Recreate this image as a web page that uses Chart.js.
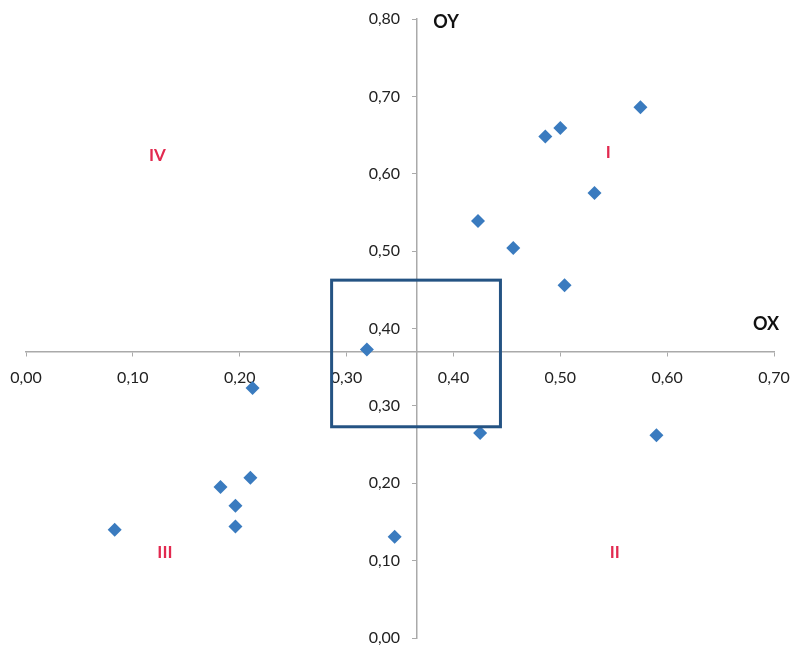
<!DOCTYPE html>
<html>
<head>
<meta charset="utf-8">
<script src="https://cdn.jsdelivr.net/npm/chart.js@4.4.1/dist/chart.umd.min.js"></script>
<style>
  html, body { margin: 0; padding: 0; background: #fff; }
  #wrap { width: 791px; height: 649px; }
</style>
</head>
<body>
<div id="wrap"><canvas id="chart" width="791" height="649"></canvas></div>
<script>
// Values
const xValues = [0.575, 0.500, 0.486, 0.532, 0.423, 0.456, 0.504, 0.319, 0.212, 0.425, 0.590, 0.210, 0.182, 0.196, 0.196, 0.083, 0.345];
const yValues = [0.686, 0.659, 0.648, 0.575, 0.539, 0.504, 0.456, 0.373, 0.323, 0.265, 0.262, 0.207, 0.195, 0.171, 0.144, 0.140, 0.131];
const xTicks = [0, 0.1, 0.2, 0.3, 0.4, 0.5, 0.6, 0.7];
const yTicks = [0, 0.1, 0.2, 0.3, 0.4, 0.5, 0.6, 0.7, 0.8];
const axisCross = { x: 0.366, y: 0.37 };
const boxRange = { x: [0.286, 0.444], y: [0.273, 0.4625] };
const quadrantLabels = ["I", "II", "III", "IV"];
const quadrantAt = [[0.545, 0.628], [0.551, 0.111], [0.130, 0.111], [0.123, 0.624]];

const points = xValues.map((x, i) => ({ x: x, y: yValues[i] }));
const fmt = v => v.toFixed(2).replace('.', ',');

// the crossing axes should not push the plot area inwards
const noPadding = s => {
    s.paddingLeft = 0; s.paddingRight = 0; s.paddingTop = 0; s.paddingBottom = 0;
};

const overlay = {
    id: 'overlay',
    afterDatasetsDraw(chart) {
        const { ctx, scales: { x, y } } = chart;
        const axisX = x.getPixelForValue(axisCross.x);
        ctx.save();

        // y labels sit left of the crossing axis, with a gap
        ctx.fillStyle = '#222';
        ctx.font = '16px Lato';
        ctx.textAlign = 'right';
        ctx.textBaseline = 'middle';
        y.ticks.forEach(t => {
            ctx.fillText(fmt(t.value), axisX - 17, y.getPixelForValue(t.value));
        });

        // box around the centre
        ctx.strokeStyle = '#245383';
        ctx.lineWidth = 3;
        const x1 = x.getPixelForValue(boxRange.x[0]);
        const x2 = x.getPixelForValue(boxRange.x[1]);
        const y1 = y.getPixelForValue(boxRange.y[1]);
        const y2 = y.getPixelForValue(boxRange.y[0]);
        ctx.strokeRect(x1, y1, x2 - x1, y2 - y1);

        // quadrant names
        ctx.fillStyle = '#e2294f';
        ctx.font = 'bold 17px Lato';
        ctx.textAlign = 'center';
        quadrantLabels.forEach((t, i) => {
            ctx.fillText(t, x.getPixelForValue(quadrantAt[i][0]), y.getPixelForValue(quadrantAt[i][1]));
        });

        // axis names
        ctx.fillStyle = '#111';
        ctx.font = 'bold 18px Lato';
        ctx.fillText('OY', axisX + 29, y.top + 3);
        ctx.fillText('OX', x.right - 8, y.getPixelForValue(axisCross.y) - 28);
        ctx.restore();
    }
};

new Chart(document.getElementById('chart'), {
    type: 'scatter',
    data: {
        datasets: [{
            data: points,
            pointStyle: 'rectRot',
            pointRadius: 7,
            pointHoverRadius: 7,
            backgroundColor: '#3a7bbf',
            borderColor: '#3a7bbf',
            borderWidth: 0
        }]
    },
    options: {
        responsive: false,
        animation: false,
        layout: { padding: { left: 26, top: 19, right: 17, bottom: 11 } },
        plugins: { legend: { display: false }, tooltip: { enabled: false } },
        scales: {
            x: {
                type: 'linear',
                position: { y: axisCross.y },
                min: 0, max: 0.7,
                afterBuildTicks: s => { s.ticks = xTicks.map(v => ({ value: v })); },
                afterFit: noPadding,
                grid: { drawOnChartArea: false, drawTicks: true, tickLength: 4, color: '#aaa' },
                border: { color: '#aaa', width: 1.5 },
                ticks: { callback: fmt, color: '#222', font: { family: 'Lato', size: 16 }, padding: 13, maxRotation: 0 }
            },
            y: {
                type: 'linear',
                position: { x: axisCross.x },
                min: 0, max: 0.8,
                afterBuildTicks: s => { s.ticks = yTicks.map(v => ({ value: v })); },
                afterFit: noPadding,
                grid: { drawOnChartArea: false, drawTicks: true, tickLength: 4, color: '#aaa' },
                border: { color: '#aaa', width: 1.5 },
                ticks: { display: false }
            }
        }
    },
    plugins: [overlay]
});
</script>
</body>
</html>
